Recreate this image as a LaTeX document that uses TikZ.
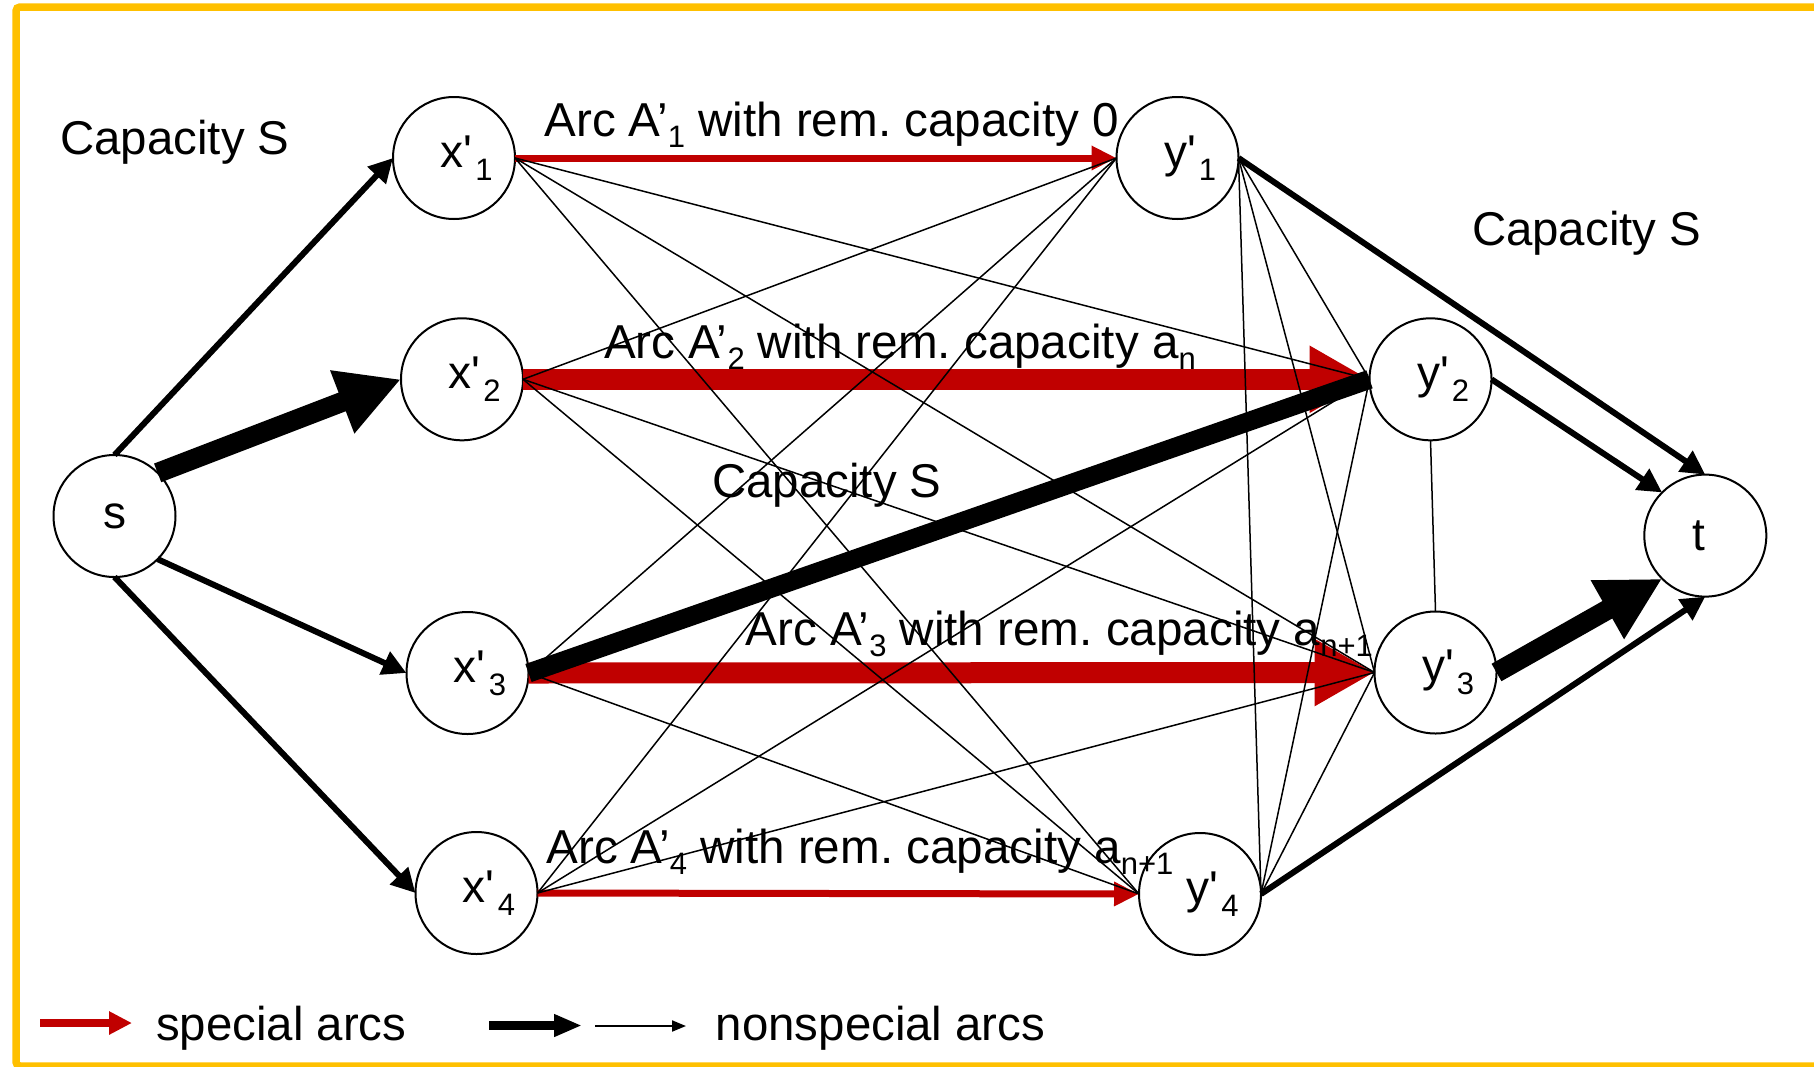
\documentclass[tikz,border=0pt]{standalone}
\usepackage{fontspec}
\setmainfont{Liberation Sans}[Ligatures=TeXOff]
\usetikzlibrary{arrows.meta}
\definecolor{arcred}{RGB}{192,0,0}
\definecolor{framegold}{RGB}{255,192,0}
% lowered small index in the arc labels, as in A'_1 or a_{n+1}
\newcommand\lowsub[1]{\raisebox{-5.5pt}{\fontsize{15.5}{15.5}\selectfont #1}}
% vertex name with primed letter and index, set a little right of centre
\newcommand\vname[2]{\hspace*{12.5pt}#1'\hspace{1.5pt}\raisebox{-6.5pt}{\fontsize{15.5}{15.5}\selectfont #2}}

\begin{document}
\frenchspacing
\begin{tikzpicture}[x=0.5pt,y=-0.5pt,
  txtfont/.style={font=\fontsize{23.7}{28}\selectfont},
  vtx/.style={circle,draw,line width=1pt,fill=white,minimum size=61pt,
              inner sep=0pt,outer sep=0pt,font=\fontsize{23}{28}\selectfont},
  lbl/.style={inner sep=0pt,anchor=base west,txtfont},
  arclbl/.style={inner sep=0pt,anchor=base west,font=\fontsize{23.8}{28}\selectfont},
  thinarc/.style={line width=0.75pt},
  fatline/.style={line width=9.5pt},
  medarrow/.style={line width=3pt,-{Triangle[length=12pt,width=12pt]}},
  fatarrow/.style={line width=10pt,-{Triangle[length=31.5pt,width=31.5pt]}},
  redmed/.style={draw=arcred,line width=3.5pt,-{Triangle[length=12.5pt,width=11.5pt]}},
  redfat/.style={draw=arcred,line width=10.5pt,-{Triangle[length=30pt,width=31.5pt]}},
]
\useasboundingbox (0,0) rectangle (1814,1066);
\clip (0,0) rectangle (1814,1066);

% outer frame
\draw[framegold,line width=3.75pt,rounded corners=2pt] (16,7) rectangle (1860,1066);

% vertices
\node[vtx] (s)  at (114.5,516)   {s};
\node[vtx] (x1) at (454,158)     {\vname{x}{1}};
\node[vtx] (x2) at (462,379.3)   {\vname{x}{2}};
\node[vtx] (x3) at (467.5,673)   {\vname{x}{3}};
\node[vtx] (x4) at (476.5,893)   {\vname{x}{4}};
\node[vtx] (y1) at (1177.5,158)  {\vname{y}{1}};
\node[vtx] (y2) at (1430.5,379.3){\vname{y}{2}};
\node[vtx] (y3) at (1435.5,672.5){\vname{y}{3}};
\node[vtx] (y4) at (1200,894)    {\vname{y}{4}};
\node[vtx] (t)  at (1705.3,535.6){\hspace*{-6pt}t};

% special arcs
\draw[redmed] (x1.east) -- (y1.west);
\draw[redfat] (x2.east) -- (y2.west);
\draw[redfat] (x3.east) -- (y3.west);
\draw[redmed] (x4.east) -- (y4.west);

% remaining x'-y' arcs
\foreach \a/\b in {x1/y2,x1/y3,x1/y4,x2/y1,x2/y3,x2/y4,x3/y1,x3/y4,x4/y1,x4/y2,x4/y3}
  \draw[thinarc] (\a.east) -- (\b.west);
% arcs among the y' vertices
\draw[thinarc] (y1.east) -- (y2.west);
\draw[thinarc] (y1.east) -- (y3.west);
\draw[thinarc] (y1.east) -- (y4.east);
\draw[thinarc] (y4.east) -- (y2.west);
\draw[thinarc] (y4.east) -- (y3.west);
\draw[thinarc] (y2.south) -- (y3.north);
\draw[fatline] (x3.east) -- (y2.west);

% source and sink arcs
\draw[medarrow] (s.north) -- (x1.west);
\draw[fatarrow] (s.north east) -- (x2.west);
\draw[medarrow] (s.south east) -- (x3.west);
\draw[medarrow] (s.south) -- (x4.west);
\draw[medarrow] (y1.east) -- (t.north);
\draw[medarrow] (y2.east) -- (t.north west);
\draw[fatarrow] (y3.east) -- (t.south west);
\draw[medarrow] (y4.east) -- (t.south);

% labels
\node[lbl] (capL) at (60,154)    {Capacity S};
\node[lbl] (capR) at (1471.6,245){Capacity S};
\node[lbl] (capM) at (712,497.5) {Capacity S};
\node[arclbl] (arc1) at (544,136)   {Arc A’\lowsub{1} with rem. capacity 0};
\node[arclbl] (arc2) at (603.7,358) {Arc A’\lowsub{2} with rem. capacity a\lowsub{n}};
\node[arclbl] (arc3) at (745.5,645) {Arc A’\lowsub{3} with rem. capacity a\lowsub{n+1}};
\node[arclbl] (arc4) at (546,863)   {Arc A’\lowsub{4} with rem. capacity a\lowsub{n+1}};

% legend
\coordinate (lgA1) at (40,1023);
\coordinate (lgA2) at (132,1023);
\coordinate (lgB1) at (489,1025.5);
\coordinate (lgB2) at (582,1025.5);
\coordinate (lgC1) at (595,1026);
\coordinate (lgC2) at (686,1026);
\draw[draw=arcred,line width=3.6pt,-{Triangle[length=11.5pt,width=11pt]}] (lgA1) -- (lgA2);
\draw[line width=4.5pt,-{Triangle[length=14pt,width=10.5pt]}] (lgB1) -- (lgB2);
\draw[line width=1pt,-{Triangle[length=7pt,width=5.5pt]}] (lgC1) -- (lgC2);
\node[lbl] (lgSpec) at (155.7,1040.7) {special arcs};
\node[lbl] (lgNon)  at (715.5,1040.7) {nonspecial arcs};
\end{tikzpicture}
\end{document}
